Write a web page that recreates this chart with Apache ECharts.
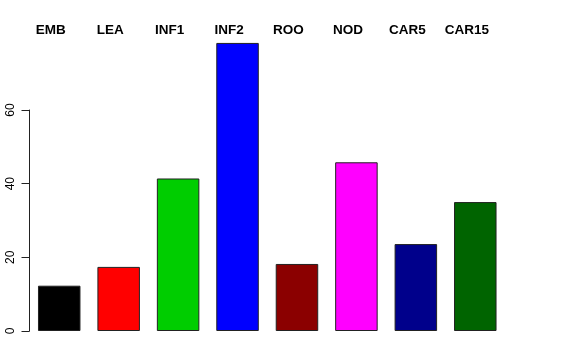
<!DOCTYPE html>
<html><head><meta charset="utf-8">
<script src="https://cdn.jsdelivr.net/npm/echarts@6/dist/echarts.min.js"></script>
<style>html,body{margin:0;padding:0;background:#fff}#c{width:576px;height:360px}</style>
</head><body><div id="c"></div>
<script>
const categories = ['EMB','LEA','INF1','INF2','ROO','NOD','CAR5','CAR15'];
const values = [12.3, 17.4, 41.4, 78.2, 18.2, 45.8, 23.6, 35.0];
const barColors = ['#000000','#ff0000','#00cd00','#0000ff','#8b0000','#ff00ff','#00008b','#006400'];
const yTicks = [0, 20, 40, 60];

const chart = echarts.init(document.getElementById('c'), null, {renderer:'canvas'});
const L = 29.5, R = 576 - 505, B = 29;
chart.setOption({
  animation: false,
  backgroundColor: '#fff',
  grid: [
    {left: L, right: R, top: 36.3, bottom: B},
    {left: L, right: R, top: 110, bottom: B}
  ],
  xAxis: [
    {gridIndex: 0, type: 'category', data: categories, position: 'top',
     axisLine: {show: false}, axisTick: {show: false},
     axisLabel: {interval: 0, margin: -1, padding: [0, 17, 0, 0], fontFamily: 'Liberation Sans', fontWeight: 'bold', fontSize: 13.5, color: '#000'}},
    {gridIndex: 1, type: 'category', data: categories, show: false}
  ],
  yAxis: [
    {gridIndex: 0, type: 'value', min: 0, max: 80, show: false, splitLine: {show: false}},
    {gridIndex: 1, type: 'value', min: 0, max: yTicks[yTicks.length-1], interval: 20,
     splitLine: {show: false},
     axisLine: {show: true, lineStyle: {color: '#222', width: 1}},
     axisTick: {show: true, length: 8, lineStyle: {color: '#222'}},
     axisLabel: {rotate: 90, margin: 13, fontFamily: 'Liberation Sans', fontSize: 12, color: '#000'}}
  ],
  series: [{
    type: 'bar', xAxisIndex: 0, yAxisIndex: 0,
    barWidth: 42.5,
    data: values.map((v, i) => ({value: v, itemStyle: {color: barColors[i]}})),
    itemStyle: {borderColor: '#222', borderWidth: 1}
  }]
});
</script></body></html>
